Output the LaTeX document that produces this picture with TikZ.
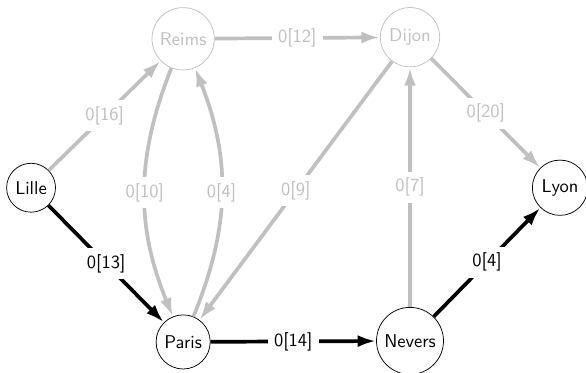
\documentclass[tikz,border=0pt]{standalone}
\usetikzlibrary{arrows.meta}
\definecolor{cmuted}{HTML}{C0C0C0}
\tikzset{
  every picture/.style={font=\sffamily},
  city/.style={circle, draw=#1, text=#1, inner sep=3pt},
  city/.default=black,
  road/.style={-{Latex[length=10pt, width=6.5pt]}, draw=#1, line width=2pt},
  road/.default=black,
  flow/.style={fill=white, text=#1, midway},
  flow/.default=black,
}
\begin{document}
\begin{tikzpicture}
  \useasboundingbox (0,0) rectangle (11.134,7.087);
  \node[city] (lille) at (0.59,3.52) {Lille};
  \node[city=cmuted] (reims) at (3.48,6.35) {Reims};
  \node[city=cmuted] (dijon) at (7.79,6.38) {Dijon};
  \node[city] (lyon) at (10.64,3.52) {Lyon};
  \node[city] (paris) at (3.48,0.59) {Paris};
  \node[city] (nevers) at (7.79,0.61) {Nevers};
  % unused roads
  \foreach \a/\b/\w in {lille/reims/16, reims/dijon/12, dijon/lyon/20, dijon/paris/9, nevers/dijon/7}
    \draw[road=cmuted] (\a) -- node[flow=cmuted] {0[\w]} (\b);
  \draw[road=cmuted] (reims) to[bend right=22] node[flow=cmuted] {0[10]} (paris);
  \draw[road=cmuted] (paris) to[bend right=22] node[flow=cmuted] {0[4]} (reims);
  % chosen path
  \foreach \a/\b/\w in {lille/paris/13, paris/nevers/14, nevers/lyon/4}
    \draw[road] (\a) -- node[flow] {0[\w]} (\b);
\end{tikzpicture}
\end{document}
